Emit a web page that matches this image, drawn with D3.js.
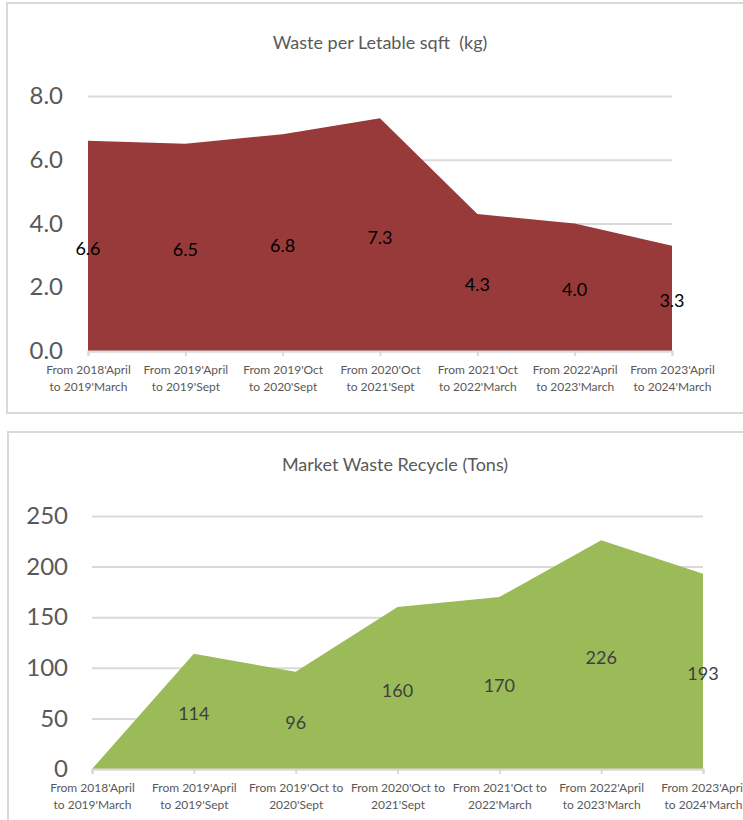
<!DOCTYPE html>
<html>
<head>
<meta charset="utf-8">
<script src="https://cdn.jsdelivr.net/npm/d3@7"></script>
<style>
  body { margin: 0; background: #fff; }
  svg { display: block; font-family: Lato, "Open Sans", sans-serif; }
</style>
</head>
<body>
<div id="graph"></div>
<script>
// periods (two-line labels)
let wastePeriods = [
  ["From 2018'April", "to 2019'March"],
  ["From 2019'April", "to 2019'Sept"],
  ["From 2019'Oct", "to 2020'Sept"],
  ["From 2020'Oct", "to 2021'Sept"],
  ["From 2021'Oct", "to 2022'March"],
  ["From 2022'April", "to 2023'March"],
  ["From 2023'April", "to 2024'March"]
];
let wasteValues = [6.6, 6.5, 6.8, 7.3, 4.3, 4.0, 3.3];
let wasteTicks = [0, 2, 4, 6, 8];

let recyclePeriods = [
  ["From 2018'April", "to 2019'March"],
  ["From 2019'April", "to 2019'Sept"],
  ["From 2019'Oct to", "2020'Sept"],
  ["From 2020'Oct to", "2021'Sept"],
  ["From 2021'Oct to", "2022'March"],
  ["From 2022'April", "to 2023'March"],
  ["From 2023'April", "to 2024'March"]
];
let recycleValues = [0, 114, 96, 160, 170, 226, 193];
let recycleTicks = [0, 50, 100, 150, 200, 250];

let svgWidth = 743, svgHeight = 820;

let svg = d3.select("#graph")
  .append("svg")
  .attr("width", svgWidth)
  .attr("height", svgHeight);

// Draw one area chart inside its panel
function drawArea(cfg) {
  // panel frame
  svg.append("rect")
    .attr("x", cfg.panel.x)
    .attr("y", cfg.panel.y)
    .attr("width", cfg.panel.w)
    .attr("height", cfg.panel.h)
    .style("fill", "none")
    .style("stroke", "#d9d9d9")
    .style("stroke-width", 2);

  svg.append("text")
    .attr("x", cfg.titleX)
    .attr("y", cfg.titleY)
    .style("text-anchor", "middle")
    .style("font-size", "18px")
    .style("white-space", "pre")
    .style("fill", "#595959")
    .text(cfg.title);

  let xScale = d3.scalePoint()
    .domain(d3.range(cfg.values.length))
    .range([cfg.left, cfg.right]);

  let yScale = d3.scaleLinear()
    .domain([0, d3.max(cfg.ticks)])
    .range([cfg.bottom, cfg.top]);

  let g = svg.append("g");

  // gridlines + y labels
  let yAxis = d3.axisLeft(yScale)
    .tickValues(cfg.ticks)
    .tickSize(-(cfg.right - cfg.left))
    .tickFormat(cfg.fmt);

  g.append("g")
    .attr("transform", `translate(${cfg.left},0)`)
    .call(yAxis)
    .call(a => a.select(".domain").remove())
    .call(a => a.selectAll("line").style("stroke", "#d9d9d9").style("stroke-width", 2))
    .call(a => a.selectAll("text")
      .attr("x", cfg.labelX - cfg.left)
      .style("font-size", "24px")
      .style("font-family", "Lato, sans-serif")
      .style("fill", "#595959"));

  // area
  let area = d3.area()
    .x((d, i) => xScale(i))
    .y0(yScale(0))
    .y1(d => yScale(d));

  g.append("path")
    .datum(cfg.values)
    .attr("d", area)
    .style("fill", cfg.color);

  // x axis
  let xAxis = d3.axisBottom(xScale)
    .tickSize(5)
    .tickFormat("");

  let xg = g.append("g")
    .attr("transform", `translate(0,${cfg.bottom})`)
    .call(xAxis);
  xg.select(".domain").style("stroke", "#d9d9d9").style("stroke-width", 2);
  xg.selectAll(".tick line").style("stroke", "#d9d9d9").style("stroke-width", 2);

  xg.selectAll(".tick").each(function (d) {
    let t = d3.select(this).append("text")
      .style("font-size", "12px")
      .style("font-family", "Lato, sans-serif")
      .style("fill", "#595959")
      .style("text-anchor", "middle");
    cfg.periods[d].forEach((line, k) => {
      t.append("tspan").attr("x", 0).attr("y", 23 + k * 17).text(line);
    });
  });

  // data labels at half height
  g.selectAll(".dlabel")
    .data(cfg.values)
    .enter()
    .append("text")
    .attr("class", "dlabel")
    .attr("x", (d, i) => xScale(i))
    .attr("y", d => yScale(d / 2) + 9)
    .style("text-anchor", "middle")
    .style("font-size", "18px")
    .style("fill", cfg.labelColor)
    .text(d => cfg.fmtLabel(d));
}

drawArea({
  panel: { x: 7, y: 3, w: 760, h: 410 },
  title: "Waste per Letable sqft  (kg)",
  titleX: 380, titleY: 49,
  values: wasteValues,
  periods: wastePeriods,
  ticks: wasteTicks,
  left: 88, right: 672, top: 96, bottom: 351,
  labelX: 63,
  fmt: d3.format(".1f"),
  fmtLabel: d3.format(".1f"),
  color: "#983a3a",
  labelColor: "#000"
});

drawArea({
  panel: { x: 8, y: 432, w: 760, h: 420 },
  title: "Market Waste Recycle (Tons)",
  titleX: 395, titleY: 471,
  values: recycleValues,
  periods: recyclePeriods,
  ticks: recycleTicks,
  left: 92, right: 703, top: 516, bottom: 769,
  labelX: 68,
  fmt: d3.format("d"),
  fmtLabel: d => d === 0 ? "" : d3.format("d")(d),
  color: "#9bbb59",
  labelColor: "#404040"
});
</script>
</body>
</html>
